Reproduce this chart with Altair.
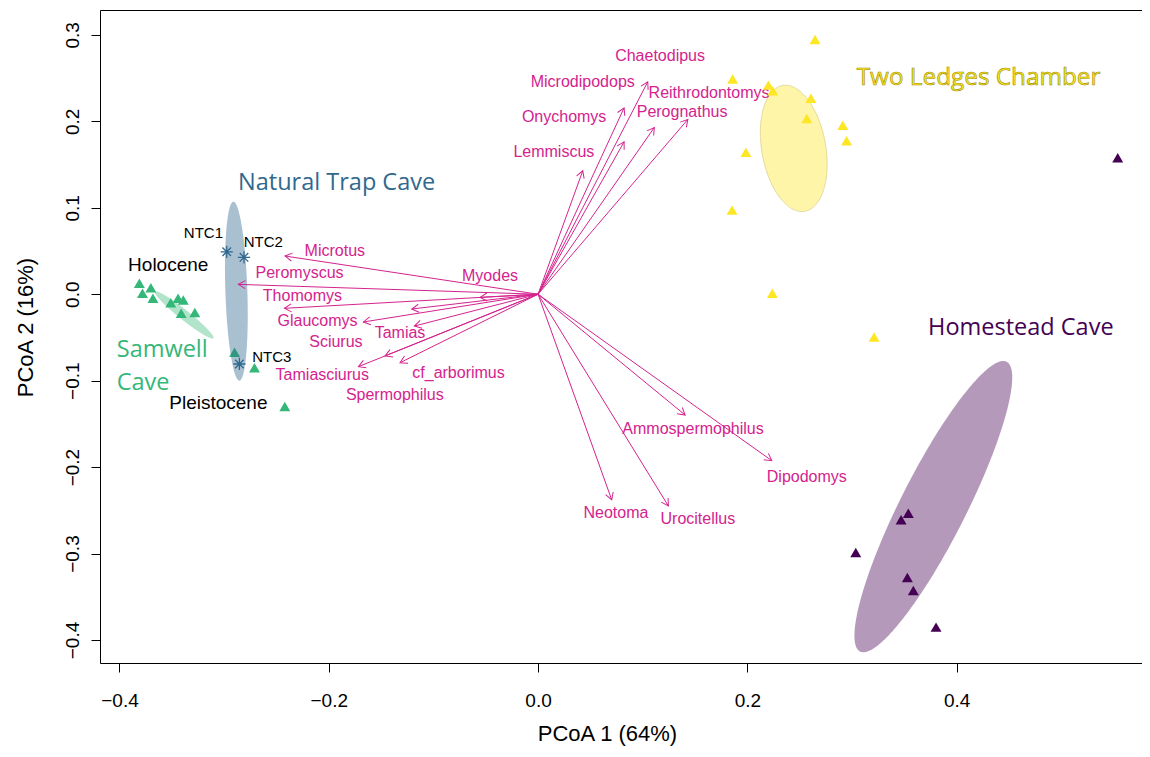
import numpy as np
import pandas as pd
import altair as alt

# ---------------- data ----------------
samwell_x = [-0.381, -0.378, -0.370, -0.368, -0.351, -0.344, -0.339, -0.341, -0.328, -0.290, -0.271, -0.242]
samwell_y = [0.0126, 0.0010, 0.0075, -0.0047, -0.0098, -0.0047, -0.0067, -0.0220, -0.0210, -0.0670, -0.0850, -0.1300]

tlc_x = [0.2647, 0.1859, 0.2201, 0.2243, 0.2607, 0.2568, 0.2912, 0.2948, 0.1986, 0.1854, 0.2239, 0.3211]
tlc_y = [0.2947, 0.2491, 0.2419, 0.2353, 0.2268, 0.2034, 0.1956, 0.1775, 0.1643, 0.0973, 0.0010, -0.0495]

hc_x = [0.3538, 0.3469, 0.3036, 0.3529, 0.3586, 0.3803, 0.5539]
hc_y = [-0.2533, -0.2610, -0.2988, -0.3277, -0.3428, -0.3851, 0.1578]

ntc_names = ["NTC1", "NTC2", "NTC3"]
ntc_x = [-0.2975, -0.2810, -0.2854]
ntc_y = [0.0491, 0.0427, -0.0807]
ntc_lab_x = [-0.3198, -0.2625, -0.2545]
ntc_lab_y = [0.0704, 0.0607, -0.0723]

species = ["Chaetodipus", "Microdipodops", "Onychomys", "Lemmiscus", "Reithrodontomys", "Perognathus",
           "Microtus", "Peromyscus", "Thomomys", "Myodes", "Glaucomys", "Sciurus", "Tamias",
           "Tamiasciurus", "Spermophilus", "cf_arborimus",
           "Ammospermophilus", "Dipodomys", "Neotoma", "Urocitellus"]
arrow_x = [0.1048, 0.0822, 0.0822, 0.0427, 0.1431, 0.1111,
           -0.2418, -0.2864, -0.2424, -0.0554, -0.1669, -0.1207, -0.1182,
           -0.1717, -0.1462, -0.1319,
           0.1405, 0.2233, 0.0704, 0.1245]
arrow_y = [0.2457, 0.2156, 0.1763, 0.1428, 0.2022, 0.1929,
           0.0442, 0.0114, -0.0163, -0.0036, -0.0321, -0.0171, -0.0368,
           -0.0838, -0.0714, -0.0792,
           -0.1397, -0.1925, -0.2379, -0.2449]
label_x = [0.1166, 0.0427, 0.0249, 0.0151, 0.1634, 0.1376,
           -0.1942, -0.2279, -0.2252, -0.0459, -0.2107, -0.1932, -0.1319,
           -0.2062, -0.1369, -0.0760,
           0.1481, 0.2568, 0.0744, 0.1527]
label_y = [0.2754, 0.2457, 0.2052, 0.1640, 0.2323, 0.2110,
           0.0503, 0.0249, -0.0021, 0.0210, -0.0306, -0.0549, -0.0445,
           -0.0934, -0.1165, -0.0908,
           -0.1562, -0.2110, -0.2533, -0.2602]

# ellipses: centre and two conjugate semi-diameters (data units)
ell_names = ["Samwell", "NTC", "TLC", "HC"]
ell_cx = [-0.3381, -0.2883, 0.2443, 0.3777]
ell_cy = [-0.0240, 0.0035, 0.1687, -0.2457]
ell_ax = [-0.0279, -0.00287, -0.0106, 0.0700]
ell_ay = [0.0269, 0.1035, 0.0728, 0.1676]
ell_bx = [0.00296, 0.0105, 0.0301, 0.0280]
ell_by = [0.00451, 0.00043, 0.0064, -0.0171]
ell_fill = ["#35B779", "#31688E", "#FDE725", "#440154"]
ell_alpha = [0.38, 0.42, 0.40, 0.40]

group_text = ["Natural Trap Cave", "Two Ledges Chamber", "Homestead Cave", "Samwell", "Cave"]
group_tx = [-0.2867, 0.3045, 0.3727, -0.4026, -0.4026]
group_ty = [0.1286, 0.2496, -0.0391, -0.0645, -0.1030]

era_text = ["Holocene", "Pleistocene"]
era_x = [-0.3534, -0.3055]
era_y = [0.0338, -0.1254]

# ---------------- styling ----------------
W, H = 1042, 653
XDOM = [-0.4186, 0.5771]
YDOM = [-0.4266, 0.3288]
XS = W / (XDOM[1] - XDOM[0])
YS = H / (YDOM[1] - YDOM[0])
MAG = "#D4238E"
GREEN = "#35B779"
BLUE = "#31688E"
YEL = "#FDE725"
PURP = "#440154"
FONT = "Liberation Sans"
GFONT = "Open Sans"

xs = alt.Scale(domain=XDOM, nice=False, zero=False)
ys = alt.Scale(domain=YDOM, nice=False, zero=False)
xaxis = alt.Axis(values=[-0.4, -0.2, 0.0, 0.2, 0.4], format=".1f", title="PCoA 1 (64%)",
                 grid=False, domain=False, tickSize=9, tickColor="black", tickWidth=1,
                 labelFontSize=19, labelFont=FONT, labelColor="black", labelPadding=19,
                 labelFlush=False, titleFontSize=22, titleFont=FONT, titleFontWeight="normal",
                 titleColor="black", titleX=507, titleY=70, titleBaseline="middle", titleAlign="center")
yaxis = alt.Axis(values=[-0.4, -0.3, -0.2, -0.1, 0.0, 0.1, 0.2, 0.3], format=".1f", title="PCoA 2 (16%)",
                 grid=False, domain=False, tickSize=9, tickColor="black", tickWidth=1,
                 labelFontSize=19, labelFont=FONT, labelColor="black", labelPadding=9,
                 labelAngle=270, labelAlign="center", labelBaseline="bottom", labelFlush=False,
                 titleFontSize=22, titleFont=FONT, titleFontWeight="normal", titleColor="black",
                 titleAngle=270, titleX=-75, titleY=317, titleBaseline="middle", titleAlign="center")


def X(f="x"):
    return alt.X(f + ":Q", scale=xs, axis=xaxis)


def Y(f="y", **kw):
    return alt.Y(f + ":Q", scale=ys, axis=yaxis, **kw)


def ellipse_df(i, n=160):
    A = (ell_ax[i], ell_ay[i])
    B = (ell_bx[i], ell_by[i])
    M = np.array([[A[0], B[0]], [A[1], B[1]]])
    Mi = np.linalg.inv(M)
    p, q = Mi[0]
    r, s = Mi[1]
    xr = np.hypot(A[0], B[0])
    u = np.linspace(0, np.pi, n)
    dx = -xr * np.cos(u)
    a = q * q + s * s
    b = 2 * (p * q + r * s) * dx
    c = (p * p + r * r) * dx * dx - 1
    disc = np.sqrt(np.clip(b * b - 4 * a * c, 0, None))
    y1 = (-b - disc) / (2 * a)
    y2 = (-b + disc) / (2 * a)
    return pd.DataFrame({"grp": ell_names[i], "x": ell_cx[i] + dx,
                         "y": ell_cy[i] + y1, "y2": ell_cy[i] + y2,
                         "f": ell_fill[i], "op": ell_alpha[i]})


def ellipse_layer(idx):
    df = pd.concat([ellipse_df(i) for i in idx], ignore_index=True)
    return alt.Chart(df).mark_area(orient="vertical", interpolate="linear", strokeWidth=0).encode(
        x=X(), y=Y(stack=None), y2=alt.Y2("y2:Q"),
        detail="grp:N",
        fill=alt.Fill("f:N", scale=None),
        fillOpacity=alt.FillOpacity("op:Q", scale=None))


def ellipse_outline(i, color):
    d = ellipse_df(i)
    lo = d[["x", "y"]]
    hi = d[["x", "y2"]].rename(columns={"y2": "y"}).iloc[::-1]
    ring = pd.concat([lo, hi], ignore_index=True)
    ring["k"] = np.arange(len(ring))
    return alt.Chart(ring).mark_line(color=color, strokeWidth=0.7).encode(
        x=X(), y=Y(), order="k:Q")


def tri_layer(xv, yv, color):
    df = pd.DataFrame({"x": xv, "y": yv})
    return alt.Chart(df).mark_point(shape="triangle-up", filled=True, size=120, color=color,
                                    opacity=1).encode(x=X(), y=Y())


arrows = pd.DataFrame({"name": species, "x": arrow_x, "y": arrow_y,
                       "x0": 0.0, "y0": 0.0, "lx": label_x, "ly": label_y})
arrows["ang"] = (np.degrees(np.arctan2(arrows["x"] * XS, arrows["y"] * YS)) + 360) % 360

arrow_lines = alt.Chart(arrows).mark_rule(color=MAG, strokeWidth=1).encode(
    x=X("x0"), y=Y("y0"), x2=alt.X2("x:Q"), y2=alt.Y2("y:Q"))
arrow_heads = alt.Chart(arrows).mark_point(
    shape="M-0.5,0.87L0,0L0.5,0.87", filled=False, size=256, color=MAG, strokeWidth=1, opacity=1
).encode(x=X(), y=Y(), angle=alt.Angle("ang:Q", scale=None))
arrow_labels = alt.Chart(arrows).mark_text(font=FONT, fontSize=16, color=MAG, align="center",
                                           baseline="middle").encode(
    x=X("lx"), y=Y("ly"), text="name:N")

ntc_df = pd.DataFrame({"name": ntc_names, "x": ntc_x, "y": ntc_y, "lx": ntc_lab_x, "ly": ntc_lab_y})
ntc_pts = alt.Chart(ntc_df).mark_point(
    shape="M-1,0L1,0M0,-1L0,1M-0.7,-0.7L0.7,0.7M-0.7,0.7L0.7,-0.7",
    filled=False, size=150, color=BLUE, strokeWidth=1.3, opacity=1).encode(x=X(), y=Y())
ntc_labels = alt.Chart(ntc_df).mark_text(font=FONT, fontSize=15, color="black", align="center",
                                         baseline="middle").encode(x=X("lx"), y=Y("ly"), text="name:N")

era_df = pd.DataFrame({"t": era_text, "x": era_x, "y": era_y})
era_labels = alt.Chart(era_df).mark_text(font=FONT, fontSize=19, color="black", align="center",
                                         baseline="middle").encode(x=X(), y=Y(), text="t:N")

g_df = pd.DataFrame({"t": group_text, "x": group_tx, "y": group_ty,
                     "c": [BLUE, YEL, PURP, GREEN, GREEN]})
g_plain = alt.Chart(g_df[g_df["t"] != "Two Ledges Chamber"]).mark_text(
    font=GFONT, fontSize=23.5, align="left", baseline="middle").encode(
    x=X(), y=Y(), text="t:N", color=alt.Color("c:N", scale=None))
g_tlc = alt.Chart(g_df[g_df["t"] == "Two Ledges Chamber"]).mark_text(
    font=GFONT, fontSize=24.3, align="left", baseline="middle", fill=YEL, stroke="#9C8C00",
    strokeWidth=0.6).encode(x=X(), y=Y(), text="t:N")

chart = alt.layer(
    ellipse_layer([0]),
    tri_layer(samwell_x, samwell_y, GREEN),
    ellipse_layer([1, 2, 3]),
    ellipse_outline(2, "#D6CB85"),
    arrow_lines,
    arrow_heads,
    arrow_labels,
    tri_layer(tlc_x, tlc_y, YEL),
    tri_layer(hc_x, hc_y, PURP),
    ntc_pts,
    ntc_labels,
    era_labels,
    g_plain,
    g_tlc,
).properties(
    width=W, height=H,
    autosize=alt.AutoSizeParams(type="none"),
    padding={"left": 92, "top": 2, "right": 0, "bottom": 83},
    background="white",
).configure_view(stroke="black", strokeWidth=1)

chart.save("out.html", embed_options={"renderer": "svg", "actions": False})
